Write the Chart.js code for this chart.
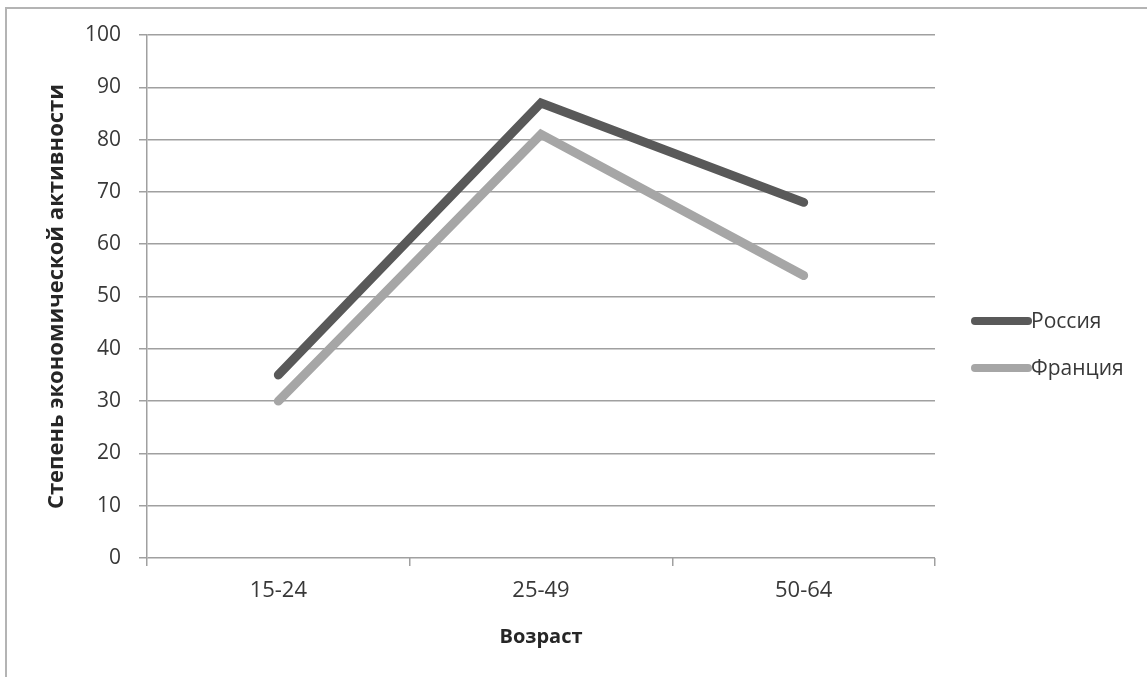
<!DOCTYPE html>
<html lang="ru">
<head>
  <meta charset="UTF-8" />
  <title>Степень экономической активности</title>
  <style>
    body {
      margin: 0;
      background: #fff;
      font-family: "Open Sans", Arial, sans-serif;
    }
    .wrap {
      position: relative;
      width: 1147px;
      height: 677px;
      overflow: hidden;
    }
    .frame {
      position: absolute;
      left: 5px;
      top: 7px;
      width: 1200px;
      height: 700px;
      border-left: 2px solid #b4b4b4;
      border-top: 2px solid #b4b4b4;
    }
    canvas {
      position: absolute;
      left: 0;
      top: 0;
    }
  </style>
  <script src="https://cdn.jsdelivr.net/npm/chart.js"></script>
</head>
<body>

<div class="wrap">
  <div class="frame"></div>
  <canvas id="chart" width="1147" height="677"></canvas>
</div>

<script>
  // données
  const categories = ["15-24", "25-49", "50-64"];
  const russia = [35, 87, 68];
  const france = [30, 81, 54];
  const seriesNames = ["Россия", "Франция"];
  const seriesColors = ["#595959", "#a6a6a6"];
  const yTicks = [0, 10, 20, 30, 40, 50, 60, 70, 80, 90, 100];

  const FONT = '"Open Sans", Arial, sans-serif';

  // légende dessinée à droite, comme dans l'original
  const sideLegend = {
    id: 'sideLegend',
    afterDraw(chart) {
      const ctx = chart.ctx;
      ctx.save();
      chart.data.datasets.forEach((ds, i) => {
        const y = 321 + i * 47;
        ctx.strokeStyle = ds.borderColor;
        ctx.lineWidth = 8;
        ctx.lineCap = 'round';
        ctx.beginPath();
        ctx.moveTo(975, y);
        ctx.lineTo(1028, y);
        ctx.stroke();
        ctx.fillStyle = '#383838';
        ctx.font = '21px ' + FONT;
        ctx.textBaseline = 'middle';
        ctx.fillText(ds.label, 1031, y + 1);
      });
      ctx.restore();
    }
  };

  const ctx = document.getElementById('chart').getContext('2d');
  const chart = new Chart(ctx, {
    type: 'line',
    data: {
      labels: categories,
      datasets: [
        {
          label: seriesNames[0],
          data: russia,
          borderColor: seriesColors[0],
          borderWidth: 9,
          borderCapStyle: 'round',
          borderJoinStyle: 'miter',
          pointRadius: 0,
          tension: 0
        },
        {
          label: seriesNames[1],
          data: france,
          borderColor: seriesColors[1],
          borderWidth: 9,
          borderCapStyle: 'round',
          borderJoinStyle: 'miter',
          pointRadius: 0,
          tension: 0
        }
      ]
    },
    options: {
      responsive: false,
      animation: false,
      layout: {
        padding: { left: 44, right: 212, top: 35, bottom: 0 }
      },
      plugins: {
        legend: { display: false },
        tooltip: { enabled: false }
      },
      scales: {
        x: {
          offset: true,
          grid: {
            offset: true,
            drawOnChartArea: false,
            color: '#a0a0a0',
            lineWidth: 1.5,
            tickLength: 8
          },
          border: { display: false },
          ticks: {
            color: '#383838',
            font: { family: FONT, size: 22 },
            padding: 12
          },
          title: {
            display: true,
            text: 'Возраст',
            color: '#262626',
            font: { family: FONT, size: 20, weight: 'bold' },
            padding: { top: 0, bottom: 28 }
          },
          afterFit(scale) { scale.height = 119; }
        },
        y: {
          min: 0,
          max: 100,
          afterBuildTicks(scale) {
            scale.ticks = yTicks.map(v => ({ value: v }));
          },
          grid: {
            color: '#a0a0a0',
            lineWidth: 1.5,
            tickLength: 8
          },
          border: { color: '#a0a0a0', width: 1.5 },
          ticks: {
            color: '#383838',
            font: { family: FONT, size: 21 },
            padding: 18
          },
          title: {
            display: true,
            text: 'Степень экономической активности',
            color: '#262626',
            font: { family: FONT, size: 22, weight: 'bold' },
            padding: { top: 0, bottom: 0 }
          },
          afterFit(scale) { scale.width = 103; }
        }
      }
    },
    plugins: [sideLegend]
  });
</script>

</body>
</html>
